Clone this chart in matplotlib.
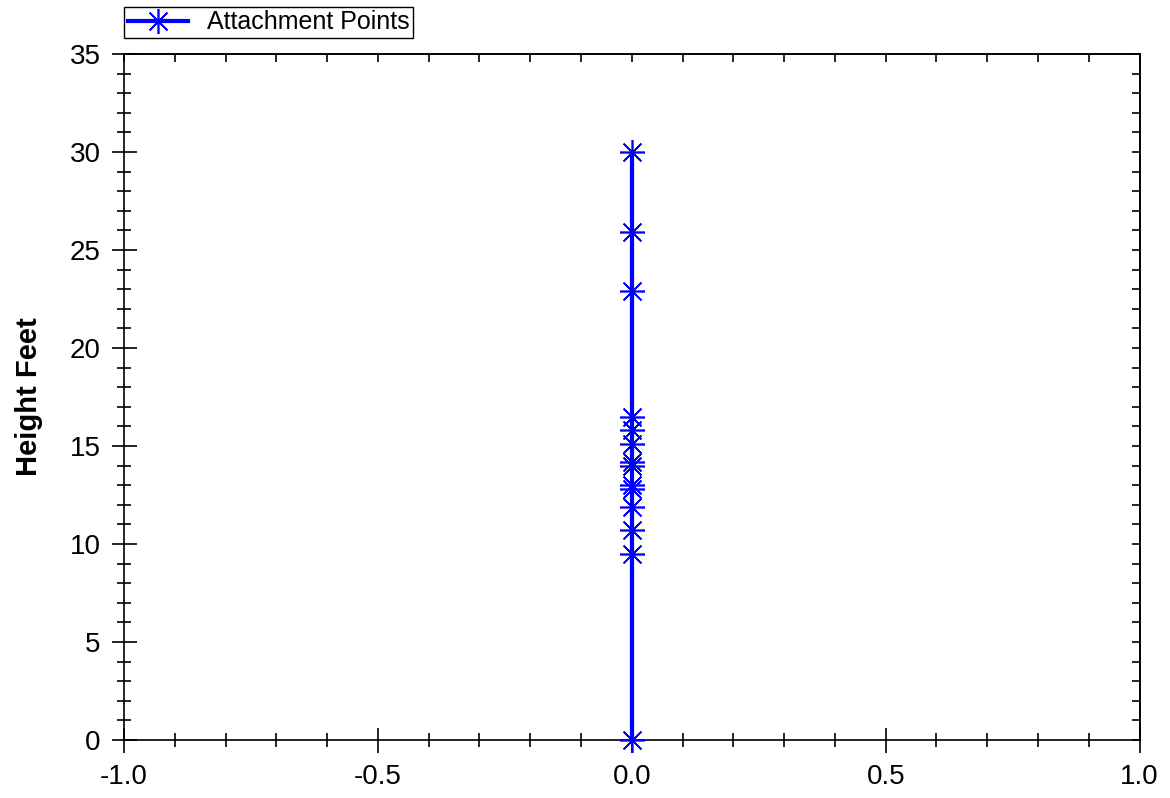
import matplotlib as mpl
import matplotlib.pyplot as plt
from matplotlib.ticker import MultipleLocator

x_values = [0, 0, 0, 0, 0, 0, 0, 0, 0, 0, 0, 0, 0, 0]
heights = [0.0, 9.5, 10.7, 11.9, 12.8, 13.0, 14.0, 14.2, 15.1, 15.8,
           16.5, 22.9, 25.9, 30.0]

dpi = 100
fig = plt.figure(dpi=dpi, figsize=(1170 / dpi, 798 / dpi))
mpl.rcParams.update({'font.family': 'Liberation Sans'})

ax = fig.add_axes([0.106, 0.0727, 0.868, 0.8596])
ax.plot(x_values, heights, color='blue', linewidth=3,
        marker=(8, 2, 0), markersize=18, markeredgewidth=1.2,
        label='Attachment Points', clip_on=False, zorder=3)

ax.set_xlim(-1.0, 1.0)
ax.set_ylim(0, 35)
ax.xaxis.set_major_locator(MultipleLocator(0.5))
ax.xaxis.set_minor_locator(MultipleLocator(0.1))
ax.yaxis.set_major_locator(MultipleLocator(5))
ax.yaxis.set_minor_locator(MultipleLocator(1))
ax.xaxis.set_major_formatter(mpl.ticker.FormatStrFormatter('%.1f'))

# left / bottom: ticks cross the spine
ax.tick_params(which='both', direction='inout', labelsize=20,
               width=1.2, color='black')
ax.tick_params(which='major', length=18, pad=8)
ax.tick_params(which='minor', length=10)
for s in ax.spines.values():
    s.set_linewidth(1.2)

# top / right: short inward ticks, no labels
ident = (lambda v: v, lambda v: v)
top = ax.secondary_xaxis('top', functions=ident)
right = ax.secondary_yaxis('right', functions=ident)
top.xaxis.set_major_locator(MultipleLocator(0.5))
top.xaxis.set_minor_locator(MultipleLocator(0.1))
right.yaxis.set_major_locator(MultipleLocator(5))
right.yaxis.set_minor_locator(MultipleLocator(1))
for sec in (top, right):
    sec.tick_params(which='both', direction='in', length=6, width=1.2,
                    labelleft=False, labelright=False,
                    labeltop=False, labelbottom=False)
    for s in sec.spines.values():
        s.set_linewidth(1.2)

ax.set_ylabel('Height Feet', fontsize=21, fontweight='bold', labelpad=19)

ax.legend(loc='lower left', bbox_to_anchor=(0.0, 1.023), fontsize=18,
          fancybox=False, edgecolor='black', framealpha=1,
          borderaxespad=0, handlelength=2.4, handletextpad=0.75,
          borderpad=0.15)

fig.savefig('out.png')
